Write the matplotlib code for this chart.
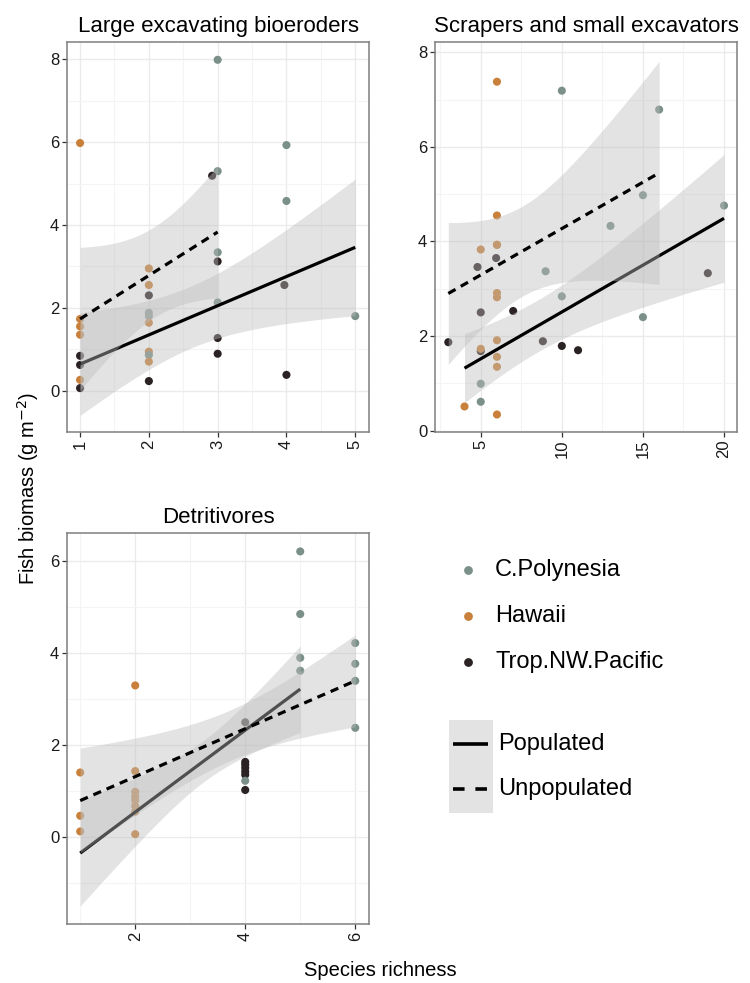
import numpy as np
import matplotlib
matplotlib.use("Agg")
import matplotlib.pyplot as plt
from matplotlib.patches import Rectangle

plt.rcParams['font.family'] = ['Liberation Sans', 'DejaVu Sans']

# colours of the three regions
region_colors = {"C.Polynesia": "#7A9089", "Hawaii": "#C8803A", "Trop.NW.Pacific": "#2B2223"}
region_names = ["C.Polynesia", "Hawaii", "Trop.NW.Pacific"]
CP, HI, TP = region_names

# ---------------- Large excavating bioeroders ----------------
le_x = [1, 1, 1, 1, 1, 1, 1, 1,
        2, 2, 2, 2, 2, 2, 2, 2, 2, 2,
        3, 3, 2.92, 3, 3, 3, 3, 3,
        4, 4, 3.97, 4, 5]
le_y = [5.98, 1.73, 1.55, 1.35, 0.84, 0.62, 0.26, 0.06,
        2.95, 2.55, 2.30, 1.88, 1.80, 1.64, 0.94, 0.86, 0.70, 0.23,
        7.99, 5.30, 5.19, 3.34, 3.12, 2.13, 1.27, 0.89,
        5.93, 4.58, 2.55, 0.38, 1.80]
le_reg = [HI, HI, HI, HI, TP, TP, HI, TP,
          HI, HI, TP, CP, CP, HI, HI, CP, HI, TP,
          CP, CP, TP, CP, TP, CP, TP, TP,
          CP, CP, TP, TP, CP]
# fitted lines: end points, and CI half widths at three x positions
le_pop_ends = [1, 5]
le_pop_y = [0.64, 3.46]
le_pop_hw_x = [1, 2.7, 5]
le_pop_hw = [1.24, 0.75, 1.65]
le_unp_ends = [1, 3]
le_unp_y = [1.73, 3.83]
le_unp_hw_x = [1, 2, 3]
le_unp_hw = [1.73, 1.10, 1.59]

# ---------------- Scrapers and small excavators ----------------
sc_x = [6, 10, 16, 15, 20, 6, 13, 5, 6, 6, 5.95, 4.8, 9, 19, 6, 6, 10, 5, 7, 15,
        3, 6, 8.83, 10, 11, 5, 5, 6, 6, 5, 5, 4, 6]
sc_y = [7.38, 7.19, 6.79, 4.98, 4.76, 4.55, 4.33, 3.83, 3.93, 3.93, 3.65, 3.46,
        3.37, 3.33, 2.91, 2.82, 2.84, 2.50, 2.53, 2.40,
        1.87, 1.91, 1.89, 1.79, 1.70, 1.68, 1.73, 1.56, 1.35, 0.99, 0.61, 0.51, 0.34]
sc_reg = [HI, CP, CP, CP, CP, HI, CP, HI, HI, HI, TP, TP, CP, TP, HI, HI, CP, TP, TP, CP,
          TP, HI, TP, TP, TP, TP, HI, HI, HI, CP, CP, HI, HI]
sc_pop_ends = [4, 20]
sc_pop_y = [1.32, 4.49]
sc_pop_hw_x = [4, 8.5, 20]
sc_pop_hw = [0.73, 0.55, 1.35]
sc_unp_ends = [3, 16]
sc_unp_y = [2.90, 5.45]
sc_unp_hw_x = [3, 8, 16]
sc_unp_hw = [1.50, 0.96, 2.36]

# ---------------- Detritivores ----------------
de_x = [1, 1, 1,
        2, 2, 2, 2, 2, 2, 2, 2,
        4, 4, 4, 4, 4, 4, 4, 4,
        5, 5, 5, 5,
        6, 6, 6, 6]
de_y = [1.40, 0.46, 0.12,
        3.29, 1.43, 0.98, 0.88, 0.80, 0.67, 0.55, 0.06,
        2.49, 1.63, 1.57, 1.50, 1.42, 1.35, 1.22, 1.02,
        6.20, 4.84, 3.89, 3.61,
        4.21, 3.76, 3.39, 2.37]
de_reg = [HI, HI, HI,
          HI, HI, HI, HI, HI, HI, HI, HI,
          TP, TP, TP, TP, TP, TP, CP, TP,
          CP, CP, CP, CP,
          CP, CP, CP, CP]
de_pop_ends = [1, 5]
de_pop_y = [-0.35, 3.21]
de_pop_hw_x = [1, 3.3, 5]
de_pop_hw = [1.15, 0.45, 0.94]
de_unp_ends = [1, 6]
de_unp_y = [0.79, 3.39]
de_unp_hw_x = [1, 3.8, 6]
de_unp_hw = [1.14, 0.55, 1.00]

W, H = 750, 983
fig = plt.figure(figsize=(W / 100, H / 100), dpi=100)

RIBBON = "#BDBDBD"
RIB_ALPHA = 0.42


def smooth(ax, ends, yends, hw_x, hw, dashed, z):
    xg = np.linspace(ends[0], ends[1], 100)
    yg = np.interp(xg, ends, yends)
    coef = np.polyfit(hw_x, np.array(hw) ** 2, 2)
    band = np.sqrt(np.clip(np.polyval(coef, xg), 0, None))
    ax.fill_between(xg, yg - band, yg + band, color=RIBBON, alpha=RIB_ALPHA,
                    linewidth=0, zorder=z)
    ln, = ax.plot(xg, yg, color="black", lw=2.3, zorder=z + 1,
                  solid_capstyle="butt", dash_capstyle="butt")
    if dashed:
        ln.set_dashes([2.6, 1.9])


def panel(rect, title, xs, ys, regs, xlim, ylim, xmaj, xmin, ymaj, ymin, fits):
    ax = fig.add_axes(rect)
    ax.scatter(xs, ys, c=[region_colors[r] for r in regs], s=34, linewidths=0, zorder=2)
    for i, f in enumerate(fits):
        smooth(ax, *f, dashed=(i == 1), z=3 + 2 * i)
    ax.set_xlim(*xlim)
    ax.set_ylim(*ylim)
    ax.set_xticks(xmaj)
    ax.set_xticks(xmin, minor=True)
    ax.set_yticks(ymaj)
    ax.set_yticks(ymin, minor=True)
    ax.grid(which="major", color="#EBEBEB", lw=1.0, zorder=0)
    ax.grid(which="minor", color="#F4F4F4", lw=0.8, zorder=0)
    ax.set_axisbelow(True)
    for s in ax.spines.values():
        s.set_color("#7F7F7F")
        s.set_linewidth(1.1)
    ax.tick_params(which="major", length=3.5, width=0.9, color="#333333",
                   labelsize=12, labelcolor="#1A1A1A", pad=2)
    ax.tick_params(which="minor", length=0)
    ax.tick_params(axis="x", labelrotation=90)
    ax.set_title(title, fontsize=16, pad=7)
    return ax


panel([67 / W, 1 - 432 / H, 302 / W, 390 / H], "Large excavating bioeroders",
      le_x, le_y, le_reg, (0.81, 5.2), (-1.0, 8.42),
      [1, 2, 3, 4, 5], [1.5, 2.5, 3.5, 4.5], [0, 2, 4, 6, 8], [-1, 1, 3, 5, 7],
      [(le_pop_ends, le_pop_y, le_pop_hw_x, le_pop_hw),
       (le_unp_ends, le_unp_y, le_unp_hw_x, le_unp_hw)])

panel([435 / W, 1 - 432 / H, 302 / W, 390 / H], "Scrapers and small excavators",
      sc_x, sc_y, sc_reg, (2.18, 20.8), (-0.03, 8.22),
      [5, 10, 15, 20], [2.5, 7.5, 12.5, 17.5], [0, 2, 4, 6, 8], [1, 3, 5, 7],
      [(sc_pop_ends, sc_pop_y, sc_pop_hw_x, sc_pop_hw),
       (sc_unp_ends, sc_unp_y, sc_unp_hw_x, sc_unp_hw)])

panel([67 / W, 1 - 924 / H, 302 / W, 391 / H], "Detritivores",
      de_x, de_y, de_reg, (0.76, 6.25), (-1.89, 6.6),
      [2, 4, 6], [1, 3, 5], [0, 2, 4, 6], [-1, 1, 3, 5],
      [(de_pop_ends, de_pop_y, de_pop_hw_x, de_pop_hw),
       (de_unp_ends, de_unp_y, de_unp_hw_x, de_unp_hw)])

fig.text(28 / W, 1 - 488 / H, "Fish biomass (g m$^{-2}$)", rotation=90,
         ha="center", va="center", fontsize=14.5)
fig.text(380 / W, 1 - 970 / H, "Species richness", ha="center", va="center", fontsize=14.5)

# legend drawn by hand in pixel coordinates
lg = fig.add_axes([0, 0, 1, 1])
lg.set_xlim(0, W)
lg.set_ylim(H, 0)
lg.axis("off")
for i, name in enumerate(region_names):
    yy = 570 + i * 46
    lg.scatter([467.5], [yy], s=40, color=region_colors[name], linewidths=0)
    lg.text(495, yy, name, va="center", ha="left", fontsize=17)
lg.add_patch(Rectangle((449, 720), 44, 93, facecolor=RIBBON, alpha=RIB_ALPHA, lw=0))
lg.plot([453, 488], [744, 744], color="black", lw=2.6, solid_capstyle="butt")
d, = lg.plot([453, 488], [789, 789], color="black", lw=2.6, dash_capstyle="butt")
d.set_dashes([3.2, 3.0])
lg.text(498, 744, "Populated", va="center", ha="left", fontsize=17)
lg.text(498, 789, "Unpopulated", va="center", ha="left", fontsize=17)

fig.savefig("out.png", dpi=100)
